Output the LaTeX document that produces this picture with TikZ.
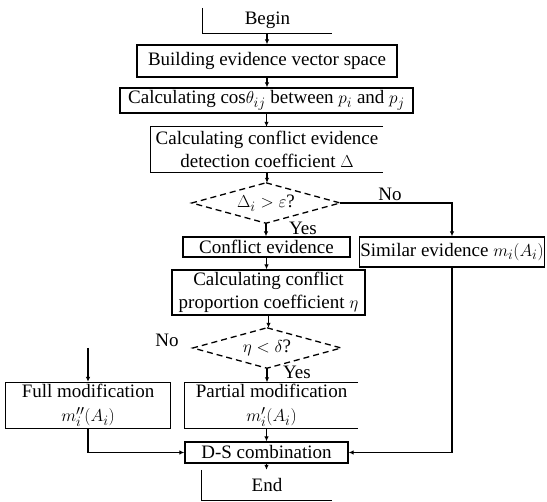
\documentclass[tikz,border=0pt]{standalone}
\usepackage{fontspec}
\setmainfont{Liberation Serif}
\usetikzlibrary{arrows.meta,calc}
\newcommand{\fs}{\fontsize{19}{22.5}\selectfont}
\begin{document}
\begin{tikzpicture}[x=1pt,y=-1pt,font=\fs,
  plain/.style={inner sep=1pt,align=center},
  box/.style={plain,draw,line width=1.3pt},
  ln/.style={line width=1.3pt},
  dsh/.style={line width=1.3pt,dash pattern=on 6pt off 4pt},
  arr/.style={line width=1.3pt,-{Latex[length=5pt,width=4.5pt]}},
  lab/.style={inner sep=0pt}]
\useasboundingbox (0,0) rectangle (547,502);
% nodes
\node[plain,minimum width=129pt,minimum height=25pt] (begin) at (267.5,20.5) {Begin};
\draw[ln] (begin.north west) -- (begin.south west) -- (begin.south east);
\node[box,minimum width=260pt,minimum height=32pt] (b1) at (267,61) {Building evidence vector space};
\node[box,minimum width=293pt,minimum height=25pt] (b2) at (266.5,100.5) {Calculating cos$\theta_{ij}$ between $p_i$ and $p_j$};
\node[plain,minimum width=232pt,minimum height=45pt] (b3) at (267,149.5) {Calculating conflict evidence\\detection coefficient $\Delta$};
\draw[ln] (b3.north east) -- (b3.north west) -- (b3.south west) -- (b3.south east);
\node[plain,minimum width=148pt,minimum height=40pt] (d1) at (266,203) {$\Delta_i>\varepsilon$?};
\draw[dsh] (d1.north) -- (d1.east) -- (d1.south) -- (d1.west) -- cycle;
\node[box,minimum width=167pt,minimum height=20pt] (ce) at (266.5,247) {Conflict evidence};
\node[box,minimum width=184pt,minimum height=30pt] (se) at (452,252) {Similar evidence $m_i(A_i)$};
\node[box,minimum width=193pt,minimum height=45pt] (b4) at (268.5,292.5) {Calculating conflict\\proportion coefficient $\eta$};
\node[plain,minimum width=148pt,minimum height=40pt] (d2) at (267,348) {$\eta<\delta$?};
\draw[dsh] (d2.north) -- (d2.east) -- (d2.south) -- (d2.west) -- cycle;
\node[box,minimum width=165pt,minimum height=46pt] (fm) at (88,405.5) {Full modification\\[1.5pt]$m_i''(A_i)$};
\node[plain,minimum width=173pt,minimum height=46pt] (pm) at (271.5,405.5) {Partial modification\\[1.5pt]$m_i'(A_i)$};
\draw[ln] (pm.north east) -- (pm.north west) -- (pm.south west) -- (pm.south east);
\node[box,minimum width=163pt,minimum height=21pt] (ds) at (266.5,452.5) {D-S combination};
\node[plain,minimum width=130pt,minimum height=30pt] (fin) at (267,485) {End};
\draw[ln] (fin.north west) -- (fin.south west) -- (fin.south east);
\coordinate (fmtop) at ($(fm.north)+(0,-34)$);
% connectors
\draw[arr] (b1.north |- begin.south) -- (b1.north);
\draw[arr] (b1.south) -- (b1.south |- b2.north);
\draw[arr] (b2.south) -- (b2.south |- b3.north);
\draw[arr] (b3.south) -- (b3.south |- d1.north);
\draw[arr] (d1.south) -- (d1.south |- ce.north);
\draw[arr] (d1.east) -| (se.north);
\draw[arr] (ce.south) -- (ce.south |- b4.north);
\draw[arr] (b4.south) -- (b4.south |- d2.north);
\draw[arr] (d2.south) -- (d2.south |- pm.north);
\draw[arr] (fmtop) -- (fm.north);
\draw[arr] (ds.north |- pm.south) -- (ds.north);
\draw[arr] (fm.south) |- (ds.west);
\draw[arr] (se.south) |- (ds.east);
\draw[arr] (ds.south) -- (ds.south |- fin.north);
% labels
\node[lab] (no1) at (390,194) {No};
\node[lab] (yes1) at (303,228.5) {Yes};
\node[lab] (no2) at (167,340) {No};
\node[lab] (yes2) at (297,372) {Yes};
\end{tikzpicture}
\end{document}
